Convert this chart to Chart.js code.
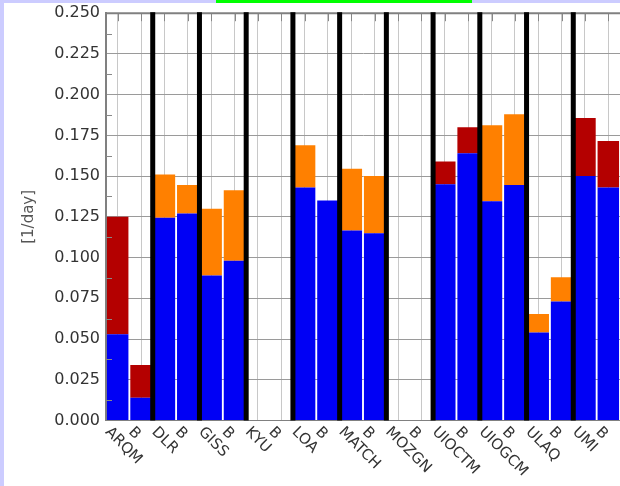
<!DOCTYPE html>
<html>
<head>
<meta charset="utf-8">
<script src="https://cdn.jsdelivr.net/npm/chart.js@4"></script>
<style>
    html, body { margin: 0; padding: 0; }
    body { width: 620px; height: 486px; background: #ccccff; position: relative; overflow: hidden; }
    #panel { position: absolute; left: 4px; top: 3px; right: 0; bottom: 0; background: #ffffff; }
    #greenBar { position: absolute; left: 216px; top: 0; width: 256px; height: 3px; background: #00ff00; }
    #lossChart { position: absolute; left: 0; top: 0; }
</style>
</head>
<body>
<div id="panel"></div>
<div id="greenBar"></div>
<canvas id="lossChart" width="620" height="486"></canvas>
<script>
// ===========================
// Data
// ===========================

const models = ['ARQM', 'DLR', 'GISS', 'KYU', 'LOA', 'MATCH', 'MOZGN', 'UIOCTM', 'UIOGCM', 'ULAQ', 'UMI'];

// two bars per model: the model run and its "B" run
const barLabels = models.flatMap(m => [m, 'B']);

const blueValues = [0.053, 0.014, 0.1245, 0.127, 0.089, 0.098, 0, 0, 0.143, 0.135, 0.1166, 0.115,
    0, 0, 0.145, 0.164, 0.1346, 0.1446, 0.054, 0.073, 0.150, 0.143];

const darkRedValues = [0.072, 0.020, 0, 0, 0, 0, 0, 0, 0, 0, 0, 0,
    0, 0, 0.014, 0.016, 0, 0, 0, 0, 0.0356, 0.0285];

const orangeValues = [0, 0, 0.0265, 0.0176, 0.041, 0.0434, 0, 0, 0.026, 0, 0.038, 0.035,
    0, 0, 0, 0, 0.0467, 0.0434, 0.0113, 0.015, 0, 0];

const yTicks = [0, 0.025, 0.05, 0.075, 0.1, 0.125, 0.15, 0.175, 0.2, 0.225, 0.25];

const yTitle = '[1/day]';

// ===========================
// Overlay: separators, minor ticks, slanted labels
// ===========================

const overlayPlugin = {
    id: 'overlay',
    afterDatasetsDraw(chart) {
        const { ctx, chartArea, scales } = chart;
        const x = scales.x, y = scales.y;
        ctx.save();

        // short dark ticks along the top axis
        ctx.strokeStyle = '#888';
        ctx.lineWidth = 1;
        barLabels.forEach((_, i) => {
            const px = Math.round(x.getPixelForValue(i)) + 0.5;
            ctx.beginPath();
            ctx.moveTo(px, chartArea.top);
            ctx.lineTo(px, chartArea.top + 8);
            ctx.stroke();
        });

        // minor ticks on the left axis
        for (let i = 0; i < yTicks.length - 1; i++) {
            const py = Math.round(y.getPixelForValue((yTicks[i] + yTicks[i + 1]) / 2)) + 0.5;
            ctx.beginPath();
            ctx.moveTo(chartArea.left, py);
            ctx.lineTo(chartArea.left + 6, py);
            ctx.stroke();
        }

        // top axis line
        ctx.strokeStyle = '#808080';
        ctx.lineWidth = 2;
        ctx.beginPath();
        ctx.moveTo(chartArea.left, chartArea.top);
        ctx.lineTo(chartArea.right, chartArea.top);
        ctx.stroke();

        // thick black lines between models
        ctx.fillStyle = '#000';
        for (let m = 1; m < models.length; m++) {
            const px = (x.getPixelForValue(2 * m - 1) + x.getPixelForValue(2 * m)) / 2;
            ctx.fillRect(px - 2.5, chartArea.top - 1, 5, chartArea.bottom - chartArea.top + 1);
        }

        // slanted category labels
        ctx.fillStyle = '#333';
        ctx.font = '15px "DejaVu Sans"';
        ctx.textAlign = 'left';
        ctx.textBaseline = 'top';
        barLabels.forEach((label, i) => {
            ctx.save();
            ctx.translate(x.getPixelForValue(i) - 5, chartArea.bottom + 4);
            ctx.rotate(Math.PI / 4);
            ctx.fillText(label, 0, 0);
            ctx.restore();
        });

        ctx.restore();
    }
};

// ===========================
// Chart
// ===========================

function createLossChart() {
    const ctx = document.getElementById('lossChart');
    if (!ctx) return;

    const barStyle = { barPercentage: 0.92, categoryPercentage: 1.0, borderWidth: 0 };

    new Chart(ctx, {
        type: 'bar',
        data: {
            labels: barLabels,
            datasets: [
                { label: 'base', data: blueValues, backgroundColor: '#0000f5', ...barStyle },
                { label: 'extra', data: darkRedValues, backgroundColor: '#b40000', ...barStyle },
                { label: 'extra B', data: orangeValues, backgroundColor: '#ff8000', ...barStyle }
            ]
        },
        options: {
            responsive: false,
            animation: false,
            events: [],
            layout: { padding: { left: 4, top: 7.5, right: 0, bottom: 0 } },
            plugins: {
                legend: { display: false },
                tooltip: { enabled: false }
            },
            scales: {
                x: {
                    stacked: true,
                    grid: { color: '#c8c8c8', lineWidth: 1, offset: false, drawTicks: false },
                    border: { color: '#808080', width: 1 },
                    ticks: { display: false },
                    afterFit(scale) { scale.height = 65.5; }
                },
                y: {
                    stacked: true,
                    min: 0,
                    max: 0.25,
                    grid: { color: '#9a9a9a', lineWidth: 1, drawTicks: false },
                    border: { color: '#808080', width: 2 },
                    ticks: {
                        padding: 6,
                        color: '#333',
                        font: { family: 'DejaVu Sans', size: 16, lineHeight: 0.9 },
                        callback: v => v.toFixed(3)
                    },
                    afterBuildTicks(scale) { scale.ticks = yTicks.map(v => ({ value: v })); },
                    afterFit(scale) { scale.width = 102; },
                    title: {
                        display: true,
                        text: yTitle,
                        color: '#555',
                        font: { family: 'DejaVu Sans', size: 15 },
                        padding: { top: 16, bottom: 0 }
                    }
                }
            }
        },
        plugins: [overlayPlugin]
    });
}

createLossChart();
</script>
</body>
</html>
